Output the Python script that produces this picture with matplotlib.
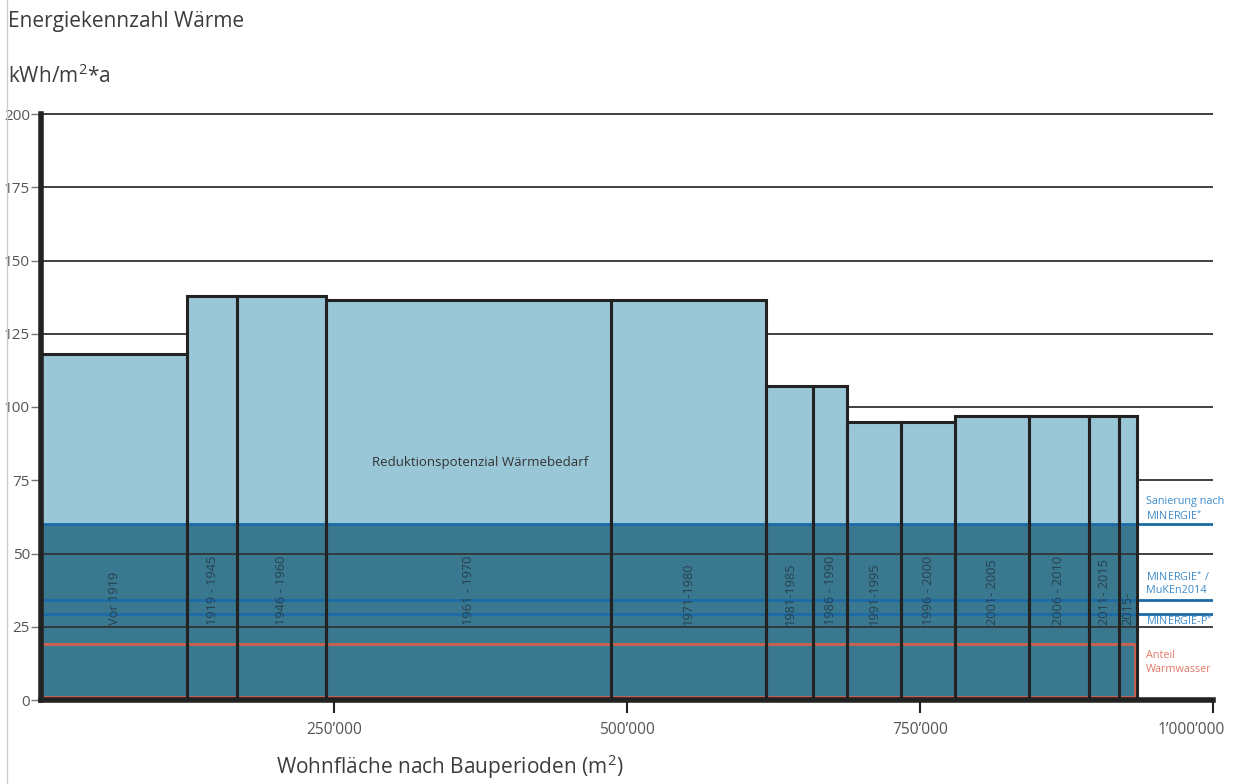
import matplotlib
matplotlib.use("Agg")
import matplotlib.pyplot as plt
import matplotlib.transforms as mtransforms
from matplotlib.patches import Rectangle
from matplotlib.lines import Line2D
import numpy as np

plt.rcParams['font.family'] = ['Open Sans', 'DejaVu Sans']
plt.rcParams['mathtext.fontset'] = 'custom'
plt.rcParams['mathtext.rm'] = 'Open Sans'
plt.rcParams['mathtext.it'] = 'Open Sans:italic'
plt.rcParams['mathtext.bf'] = 'Open Sans:bold'

# ---- data ----
periods = ["Vor 1919", "1919 - 1945", "1946 - 1960", "1961 - 1970", "1971-1980",
           "1981-1985", "1986 - 1990", "1991-1995", "1996 - 2000", "2001- 2005",
           "2006 - 2010", "2011- 2015", "2015-"]
areas = [125000, 42000, 76000, 243000, 133000, 40000, 29000, 46000, 46000,
         63000, 51000, 26000, 15000]
energy = [118, 138, 138, 136.5, 136.5, 107, 107, 95, 95, 97, 97, 97, 97]
sanierung_minergie = 60
minergie_muken = 34
minergie_p = 29.5
warmwasser = 19
y_ticks = [0, 25, 50, 75, 100, 125, 150, 175, 200]
x_ticks = [250000, 500000, 750000, 1000000]
x_tick_labels = ["250\u2019000", "500\u2019000", "750\u2019000", "1\u2019000\u2019000"]

# ---- styles ----
light = "#9ac7d7"
dark = "#3a7890"
edge = "#222222"
blue_line = "#1c6aa6"
blue_text = "#3d8ccc"
red_line = "#d0614f"
red_text = "#e07a6a"
text_col = "#3c3c3c"

fig = plt.figure(figsize=(12.42, 7.84), dpi=100)
ax = fig.add_axes([41/1242, 84/784, 1172/1242, 586/784])
ax.set_xlim(0, 1000000)
ax.set_ylim(0, 200)

lefts = np.concatenate([[0], np.cumsum(areas)[:-1]])
heights = np.array(energy)
total = float(np.sum(areas))

# dark band (target zone) behind grid
ax.bar(lefts, [sanierung_minergie]*len(areas), width=areas, bottom=0, align='edge',
       color=dark, linewidth=0, zorder=0.5)
# grid lines
ax.hlines([t for t in y_ticks if t > 0], 0, 1000000, color="#333333", lw=1.3,
          zorder=1, clip_on=False)
# light part (reduction potential)
ax.bar(lefts, heights - sanierung_minergie, width=areas, bottom=sanierung_minergie,
       align='edge', color=light, linewidth=0, zorder=2)
# target lines
ax.hlines([sanierung_minergie, minergie_muken, minergie_p], 0, 1000000,
          color=blue_line, lw=2.0, zorder=3)
# warm water rectangle
ax.add_patch(Rectangle((0, 1), total - 1500, warmwasser - 1, fill=False,
                       edgecolor=red_line, lw=2.0, zorder=3.5))
# bar outlines
ax.bar(lefts, heights, width=areas, align='edge', fill=False, edgecolor=edge,
       linewidth=2.2, zorder=5)

# period labels
for l, w, p in zip(lefts, areas, periods):
    ax.text(l + w/2, 25.5, p, rotation=90, ha='center', va='bottom',
            fontsize=9.2, color="#27414f", zorder=6)

ax.text(375000, 81, "Reduktionspotenzial Wärmebedarf", ha='center', va='center',
        fontsize=9.5, color="#333333", zorder=6)

# right labels
xr = 943000
ax.text(xr, 60.5, "Sanierung nach\nMINERGIE$^{*}$", ha='left', va='bottom',
        fontsize=7.8, color=blue_text, linespacing=1.15, clip_on=False)
ax.text(xr, 35.5, "MINERGIE$^{*}$ /\nMuKEn2014", ha='left', va='bottom',
        fontsize=7.8, color=blue_text, linespacing=1.15, clip_on=False)
ax.text(xr, 27, "MINERGIE-P$^{*}$", ha='left', va='center',
        fontsize=7.8, color=blue_text, clip_on=False)
ax.text(xr, 17, "Anteil\nWarmwasser", ha='left', va='top',
        fontsize=7.8, color=red_text, linespacing=1.35, clip_on=False)

# spines & ticks
for s in ['top', 'right']:
    ax.spines[s].set_visible(False)
ax.spines['left'].set_linewidth(4)
ax.spines['left'].set_color(edge)
ax.spines['bottom'].set_linewidth(4)
ax.spines['bottom'].set_color(edge)
ax.spines['left'].set_zorder(7)
ax.spines['bottom'].set_zorder(7)

ax.set_yticks(y_ticks)
ax.set_yticklabels([str(t) for t in y_ticks])
ax.tick_params(axis='y', length=7, width=1, color="#777777", pad=1,
               labelsize=11, labelcolor="#555555")
ax.set_xticks(x_ticks)
ax.set_xticklabels(x_tick_labels)
ax.tick_params(axis='x', length=9, width=1.5, color=edge, pad=7,
               labelsize=11.2, labelcolor="#555555")
# last tick label sits left of its tick so it stays inside the figure
last = ax.get_xticklabels()[-1]
last.set_transform(last.get_transform() +
                   mtransforms.ScaledTranslation(-22/100, 0, fig.dpi_scale_trans))

fig.text(8/1242, 1 - 22/784, "Energiekennzahl Wärme", ha='left', va='center',
         fontsize=15, color=text_col)
fig.text(8/1242, 1 - 76/784, "kWh/m$^{2}$*a", ha='left', va='center',
         fontsize=15, color=text_col)
fig.text(450/1242, 1 - 767/784, "Wohnfläche nach Bauperioden (m$^{2}$)", ha='center',
         va='center', fontsize=15, color=text_col)

fig.add_artist(Line2D([7/1242, 7/1242], [0, 1], color="#cccccc", lw=1))

fig.savefig("out.png", dpi=100)
